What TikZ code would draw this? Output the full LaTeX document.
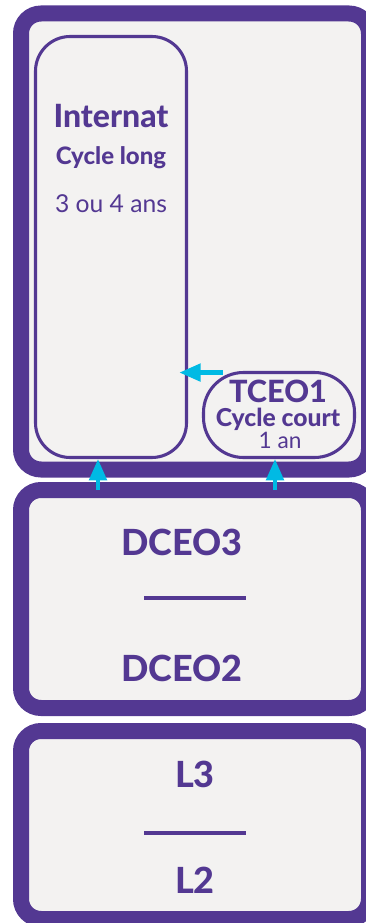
\documentclass[tikz,border=0pt]{standalone}
\usepackage{fontspec}
\setmainfont{Lato}[BoldFont={Lato Heavy}]
\usetikzlibrary{arrows.meta}
\definecolor{violet}{RGB}{83,56,146}
\definecolor{paper}{RGB}{243,242,241}
\definecolor{cyanflow}{RGB}{0,186,228}
\begin{document}
\begin{tikzpicture}[x=0.75pt, y=-0.75pt,
    frame/.style = {draw=violet, line width=12pt, fill=paper, rounded corners=15pt, inner sep=0pt, minimum width=261pt},
    track/.style = {draw=violet, line width=2.3pt, inner sep=0pt, minimum width=113.25pt},
    word/.style = {text=violet, inner sep=0pt, anchor=base},
    flow/.style = {draw=cyanflow, line width=3.2pt, -{Triangle[width=13pt,length=16pt]}}]
        \useasboundingbox (0,0) rectangle (366,923);
        \node[frame, minimum height=342pt] (upper) at (195,241.5) {};
        \node[frame, minimum height=163.5pt] (middle) at (195,599) {};
        \node[frame, minimum height=141pt] (lower) at (195,825) {};
        %
        \node[track, minimum height=315.75pt, rounded corners=26pt] (internat) at (111,247) {};
        \node[track, minimum height=63.75pt, rounded corners=30pt] (tceo) at (279,415) {};
        %
        \node[word, font=\fontsize{24}{28}\bfseries] (t1) at (111,128) {Internat};
        \node[word, font=\fontsize{18}{22}\bfseries] (t2) at (111,165) {Cycle long};
        \node[word, font=\fontsize{18.5}{22}\selectfont] (t3) at (111,213) {3 ou 4 ans};
        \node[word, font=\fontsize{23}{27}\bfseries] (t4) at (278,402) {TCEO1};
        \node[word, font=\fontsize{18.5}{22}\bfseries] (t5) at (278,426) {Cycle court};
        \node[word, font=\fontsize{17}{20}\selectfont] (t6) at (280,448) {1 an};
        \node[word, font=\fontsize{27}{32}\bfseries] (d3) at (182,555) {DCEO3};
        \node[word, font=\fontsize{27}{32}\bfseries] (d2) at (182,681) {DCEO2};
        \node[word, font=\fontsize{27}{32}\bfseries] (l3) at (195,787) {L3};
        \node[word, font=\fontsize{27}{32}\bfseries] (l2) at (195,893) {L2};
        %
        \draw[violet, line width=2.4pt] (144,598) -- (246,598);
        \draw[violet, line width=2.4pt] (144,833) -- (246,833);
        %
        \coordinate (a1) at ([xshift=-9.75pt,yshift=-6pt]middle.north -| internat.south);
        \coordinate (a2) at ([xshift=-3pt,yshift=-6pt]middle.north -| tceo.south);
        \coordinate (a3) at ([xshift=15.5pt,yshift=-1.2pt]tceo.north west);
        \draw[flow] (a1) -- ([xshift=-9.75pt]internat.south);
        \draw[flow] (a2) -- ([xshift=-3pt]tceo.south);
        \draw[flow] (a3) -- ([xshift=-6.5pt]internat.east |- a3);
      \end{tikzpicture}
\end{document}
